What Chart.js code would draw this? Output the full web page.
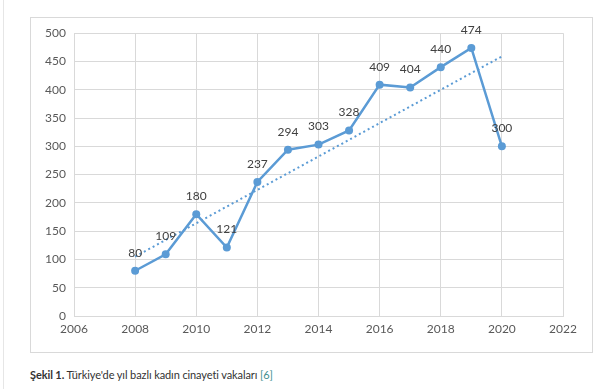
<!DOCTYPE html>
<html>
<head>
<meta charset="utf-8">
<script src="https://cdn.jsdelivr.net/npm/chart.js@4"></script>
<style>
  body { margin: 0; background: #fff; width: 612px; height: 389px; position: relative; overflow: hidden; }
  #rule { position: absolute; left: 3px; top: 0; width: 0; height: 389px; border-left: 1px solid #e6e6e6; }
  #box { position: absolute; left: 30px; top: 17px; width: 561px; height: 334px; border: 1px solid #d9d9d9; }
  #caption { position: absolute; left: 30px; top: 368px; font: 11px Lato, sans-serif; color: #333; letter-spacing: -0.1px; }
  #caption b { font-weight: bold; }
  #caption span { color: #3f8f8f; }
</style>
</head>
<body>
<div id="rule"></div>
<div id="box"><canvas id="myChart" width="561" height="334"></canvas></div>
<div id="caption"><b>Şekil 1.</b> Türkiye'de yıl bazlı kadın cinayeti vakaları <span>[6]</span></div>
<script>
// values
const years = [2008, 2009, 2010, 2011, 2012, 2013, 2014, 2015, 2016, 2017, 2018, 2019, 2020];
const cases = [80, 109, 180, 121, 237, 294, 303, 328, 409, 404, 440, 474, 300];
// dotted trend line, ends only
const trendYears = [2008, 2020];
const trendValues = [105, 459];

const blue = '#5b9bd5';
const gridGrey = '#d9d9d9';

// draws the number above each point of the first dataset
const pointLabels = {
    id: 'pointLabels',
    afterDatasetsDraw(chart) {
        const c = chart.ctx;
        const meta = chart.getDatasetMeta(0);
        c.save();
        c.font = '12px Lato, sans-serif';
        c.fillStyle = '#404040';
        c.textAlign = 'center';
        c.textBaseline = 'middle';
        meta.data.forEach(function (pt, i) {
            c.fillText(String(cases[i]), pt.x, pt.y - 18);
        });
        c.restore();
    }
};

const ctx = document.getElementById('myChart').getContext('2d');
const myChart = new Chart(ctx, {
    type: 'line',
    data: {
        datasets: [{
            data: years.map((y, i) => ({ x: y, y: cases[i] })),
            borderColor: blue,
            backgroundColor: blue,
            borderWidth: 2.5,
            pointRadius: 4,
            pointHoverRadius: 4,
            pointBackgroundColor: blue,
            pointBorderWidth: 0,
            tension: 0
        }, {
            data: trendYears.map((y, i) => ({ x: y, y: trendValues[i] })),
            borderColor: blue,
            borderWidth: 2,
            borderDash: [2, 3],
            pointRadius: 0
        }]
    },
    options: {
        responsive: false,
        animation: false,
        layout: { padding: { left: 0, right: 29, top: 15, bottom: 0 } },
        plugins: { legend: { display: false }, tooltip: { enabled: false } },
        scales: {
            x: {
                type: 'linear',
                min: 2006,
                max: 2022,
                ticks: { stepSize: 2, color: '#595959', font: { family: 'Lato', size: 12 }, padding: 6,
                    callback: v => String(v) },
                grid: { color: gridGrey, drawTicks: false },
                border: { color: gridGrey },
                afterFit(scale) { scale.height = 36; }
            },
            y: {
                min: 0,
                max: 500,
                ticks: { stepSize: 50, color: '#595959', font: { family: 'Lato', size: 12 }, padding: 8 },
                grid: { color: gridGrey, drawTicks: false },
                border: { color: gridGrey },
                afterFit(scale) { scale.width = 43; }
            }
        }
    },
    plugins: [pointLabels]
});
</script>
</body>
</html>
